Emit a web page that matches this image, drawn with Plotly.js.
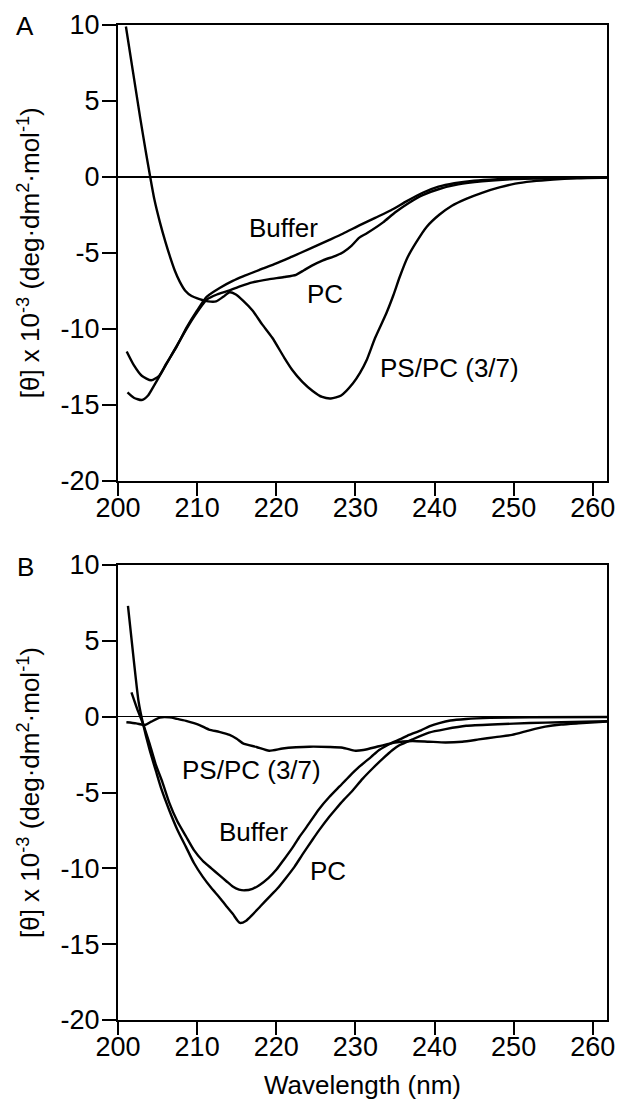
<!DOCTYPE html>
<html>
<head>
<meta charset="utf-8">
<script src="https://cdn.plot.ly/plotly-3.0.1.min.js"></script>
<style>html,body{margin:0;padding:0;background:#fff;}#chart{width:619px;height:1100px;}</style>
</head>
<body>
<div id="chart"></div>
<script>
// ---- Panel A data ----
const aBufferX = [201.1,202.0,203.0,204.2,205.2,206.1,207.4,208.7,210.0,211.2,212.9,214.5,215.8,218.0,220.0,222.0,224.2,226.3,228.4,230.5,232.5,234.5,236.5,238.5,240.5,242.5,245.0,248.0,252.0,256.0,261.8];
const aBufferY = [-11.5,-12.4,-13.1,-13.4,-13.1,-12.3,-11.2,-9.9,-8.8,-7.9,-7.3,-6.85,-6.55,-6.1,-5.7,-5.25,-4.75,-4.25,-3.75,-3.2,-2.7,-2.2,-1.6,-1.05,-0.65,-0.42,-0.25,-0.15,-0.08,-0.05,-0.03];

const aPCX = [201.2,202.0,203.0,203.8,204.5,205.5,206.7,208.0,209.5,211.2,212.5,214.0,215.5,217.0,219.0,221.0,222.5,223.5,224.5,225.9,227.5,228.5,229.5,230.5,231.5,233.5,235.0,236.8,238.5,240.6,243.0,246.0,250.0,255.0,261.8];
const aPCY = [-14.2,-14.55,-14.7,-14.4,-13.8,-12.9,-11.8,-10.6,-9.3,-8.1,-7.75,-7.5,-7.2,-6.95,-6.75,-6.6,-6.45,-6.15,-5.85,-5.5,-5.2,-4.95,-4.55,-4.0,-3.7,-3.0,-2.35,-1.7,-1.2,-0.8,-0.5,-0.3,-0.15,-0.08,-0.04];

const aPSPCX = [201.0,201.9,202.8,203.5,204.0,204.6,205.3,206.0,206.6,207.2,207.8,208.5,209.3,210.3,211.4,212.4,213.3,214.1,214.9,215.8,217.0,218.2,219.5,221.0,222.0,223.3,224.6,225.8,226.9,228.2,229.7,230.6,231.4,232.5,233.9,234.8,235.6,236.6,237.7,239.0,240.6,242.2,244.0,246.0,248.2,250.2,252.3,255.0,258.0,261.8];
const aPSPCY = [9.9,6.9,3.9,1.7,0.2,-1.5,-3.0,-4.3,-5.3,-6.2,-6.9,-7.5,-7.85,-8.05,-8.2,-8.2,-7.9,-7.6,-7.75,-8.15,-8.8,-9.7,-10.6,-11.9,-12.7,-13.5,-14.1,-14.5,-14.6,-14.4,-13.6,-12.9,-12.1,-10.6,-9.0,-7.8,-6.6,-5.3,-4.3,-3.3,-2.5,-1.9,-1.45,-1.05,-0.7,-0.45,-0.3,-0.18,-0.1,-0.05];

// ---- Panel B data ----
const bBufferX = [201.7,202.5,203.15,204.0,204.8,205.6,206.5,207.5,208.6,209.6,210.7,211.8,212.8,213.7,214.5,215.3,216.0,217.0,217.9,219.0,220.0,221.0,222.1,222.9,223.8,225.4,226.7,228.0,229.3,230.5,232.0,233.0,234.5,235.6,236.8,238.3,239.5,240.6,242.0,244.0,247.0,252.0,261.8];
const bBufferY = [1.6,0.4,-0.44,-1.8,-3.2,-4.3,-5.7,-6.9,-7.9,-8.8,-9.5,-10.0,-10.45,-10.85,-11.2,-11.4,-11.45,-11.35,-11.1,-10.65,-10.1,-9.4,-8.6,-7.95,-7.3,-6.1,-5.3,-4.6,-3.9,-3.3,-2.65,-2.2,-1.75,-1.5,-1.2,-0.9,-0.6,-0.42,-0.25,-0.15,-0.08,-0.04,-0.02];

const bPCX = [201.26,202.0,202.6,203.15,204.0,204.8,205.5,206.5,207.5,208.6,209.6,210.7,211.8,212.8,213.7,214.5,215.4,216.2,217.0,218.0,219.1,220.2,221.2,222.3,223.3,224.6,225.4,226.7,227.5,228.5,229.6,230.9,232.2,233.5,234.7,235.5,237.2,239.3,241.4,244.0,248.0,252.0,256.0,261.8];
const bPCY = [7.3,3.7,1.0,-0.44,-2.2,-3.6,-4.8,-6.2,-7.45,-8.6,-9.65,-10.55,-11.3,-11.9,-12.5,-13.0,-13.6,-13.45,-13.05,-12.5,-11.9,-11.3,-10.65,-9.9,-9.1,-8.1,-7.5,-6.6,-6.1,-5.5,-4.9,-4.1,-3.4,-2.75,-2.2,-1.9,-1.5,-1.05,-0.82,-0.6,-0.5,-0.42,-0.37,-0.3];

const bPSPCX = [201.06,202.3,203.4,204.2,205.3,206.5,207.5,208.6,210.3,211.5,212.8,214.1,215.0,215.8,217.5,219.1,220.8,222.5,224.2,226.7,228.4,230.0,231.0,233.0,235.0,237.2,239.3,241.4,243.5,245.6,247.7,249.8,252.0,254.0,256.0,258.2,261.8];
const bPSPCY = [-0.37,-0.44,-0.55,-0.33,-0.06,-0.05,-0.15,-0.28,-0.55,-0.85,-1.0,-1.2,-1.45,-1.76,-2.0,-2.25,-2.1,-2.02,-1.98,-2.0,-2.05,-2.25,-2.2,-1.95,-1.7,-1.6,-1.65,-1.7,-1.65,-1.5,-1.35,-1.2,-0.9,-0.66,-0.52,-0.44,-0.33];

// ---- Labels ----
const seriesNames = ["Buffer", "PC", "PS/PC (3/7)"];
const xTickVals = [200,210,220,230,240,250,260];
const yTickVals = [-20,-15,-10,-5,0,5,10];
const yTitle = "[θ] x 10<sup>-3</sup> (deg·dm<sup>2</sup>·mol<sup>-1</sup>)";
const xTitle = "Wavelength (nm)";
const panelLetters = ["A", "B"];
// curve label anchor points (data coords)
const aLabelX = [220.9, 226.2, 241.9];
const aLabelY = [-3.4, -7.7, -12.6];
const bLabelX = [217.1, 226.6, 216.9];
const bLabelY = [-7.6, -10.2, -3.5];

const FONT = "Liberation Sans, Arial, Helvetica, sans-serif";
const line = {color: "#000", width: 2.4, shape: "spline", smoothing: 0.6};

function tr(x, y, name, xa, ya) {
  return {x: x, y: y, name: name, type: "scatter", mode: "lines", line: line,
          xaxis: xa, yaxis: ya, hoverinfo: "skip", showlegend: false};
}

const data = [
  tr(aBufferX, aBufferY, seriesNames[0], "x", "y"),
  tr(aPCX, aPCY, seriesNames[1], "x", "y"),
  tr(aPSPCX, aPSPCY, seriesNames[2], "x", "y"),
  tr(bBufferX, bBufferY, seriesNames[0], "x2", "y2"),
  tr(bPCX, bPCY, seriesNames[1], "x2", "y2"),
  tr(bPSPCX, bPSPCY, seriesNames[2], "x2", "y2")
];

function xa(anchor, withTitle) {
  const o = {
    anchor: anchor, range: [200, 261.8], tickvals: xTickVals, ticktext: xTickVals.map(String),
    showgrid: false, zeroline: false, showline: true, linecolor: "#000", linewidth: 2,
    mirror: true, ticks: "outside", ticklen: 13, tickwidth: 2, tickcolor: "#000",
    ticklabelstandoff: -11,
    tickfont: {family: FONT, size: 27, color: "#000"}
  };
  if (withTitle) o.title = {text: xTitle, font: {family: FONT, size: 26, color: "#000"}, standoff: 22};
  return o;
}
function ya(anchor, domain, zw) {
  return {
    anchor: anchor, domain: domain, range: [-20, 10], tickvals: yTickVals, ticktext: yTickVals.map(String),
    showgrid: false, zeroline: true, zerolinecolor: "#000", zerolinewidth: zw,
    showline: true, linecolor: "#000", linewidth: 2, mirror: true,
    ticks: "outside", ticklen: 14, tickwidth: 2, tickcolor: "#000",
    ticklabelstandoff: -3,
    tickfont: {family: FONT, size: 27, color: "#000"},
    title: {text: yTitle, font: {family: FONT, size: 26, color: "#000"}, standoff: 13}
  };
}

const annotations = [];
for (let i = 0; i < 3; i++) {
  annotations.push({x: aLabelX[i], y: aLabelY[i], xref: "x", yref: "y", text: seriesNames[i],
    xanchor: "center", yanchor: "middle",
    showarrow: false, font: {family: FONT, size: 26, color: "#000"}});
  annotations.push({x: bLabelX[i], y: bLabelY[i], xref: "x2", yref: "y2", text: seriesNames[i],
    xanchor: "center", yanchor: "middle",
    showarrow: false, font: {family: FONT, size: 26, color: "#000"}});
}
// panel letters, given in pixel positions, converted to paper coords below
annotations.push({x: 25, y: 26, xref: "paper", yref: "paper", text: panelLetters[0], showarrow: false,
  xanchor: "center", yanchor: "middle", font: {family: FONT, size: 26, color: "#000"}});
annotations.push({x: 25, y: 567, xref: "paper", yref: "paper", text: panelLetters[1], showarrow: false,
  xanchor: "center", yanchor: "middle", font: {family: FONT, size: 26, color: "#000"}});

const W = 619, H = 1100, mL = 118, mR = 12, mT = 25, mB = 80;
const plotW = W - mL - mR, plotH = H - mT - mB;
for (const a of annotations) {
  if (a.xref === "paper") {
    a.x = (a.x - mL) / plotW;
    a.y = (H - mB - a.y) / plotH;
  }
}

const layout = {
  width: W, height: H,
  margin: {l: mL, r: mR, t: mT, b: mB},
  paper_bgcolor: "#fff", plot_bgcolor: "#fff",
  font: {family: FONT, size: 26, color: "#000"},
  showlegend: false,
  xaxis: xa("y", false),
  yaxis: ya("x", [(H - mB - 480.5) / plotH, 1], 2),
  xaxis2: xa("y2", true),
  yaxis2: ya("x2", [0, (H - mB - 565) / plotH], 1.6),
  annotations: annotations
};

Plotly.newPlot("chart", data, layout, {displayModeBar: false, staticPlot: true});
</script>
</body>
</html>
